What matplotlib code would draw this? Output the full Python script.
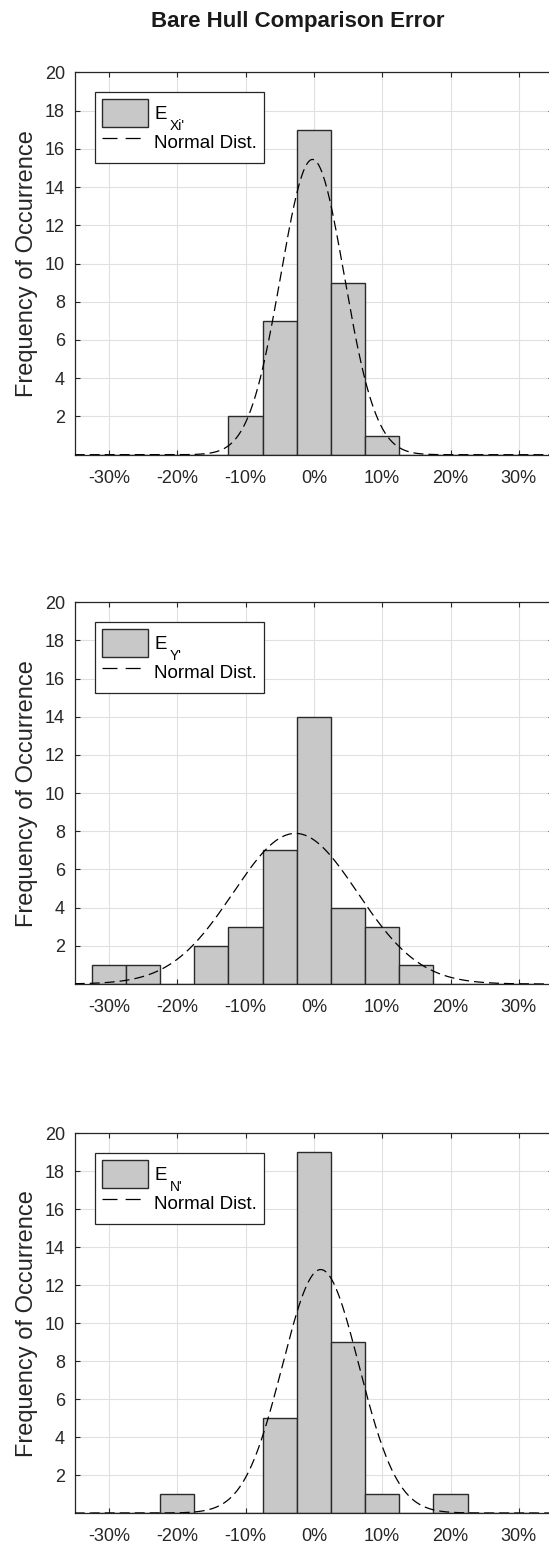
import matplotlib
matplotlib.use("Agg")
import matplotlib.pyplot as plt
from matplotlib.transforms import IdentityTransform
from matplotlib.lines import Line2D
import numpy as np

plt.rcParams['font.family'] = ['Liberation Sans', 'DejaVu Sans']

# histogram bins (error in %), bin width 5%
centers = [-30, -25, -20, -15, -10, -5, 0, 5, 10, 15, 20, 25, 30]
bin_width = 5

counts_x = [0, 0, 0, 0, 2, 7, 17, 9, 1, 0, 0, 0, 0]
counts_y = [1, 1, 0, 2, 3, 7, 14, 4, 3, 1, 0, 0, 0]
counts_n = [0, 0, 1, 0, 0, 5, 19, 9, 1, 0, 1, 0, 0]

# fitted normal distributions (mean, std in %)
mu_x, sigma_x = -0.2, 4.65
mu_y, sigma_y = -2.7, 9.1
mu_n, sigma_n = 1.0, 5.6

subscripts = ["Xi'", "Y'", "N'"]
xticks = [-30, -20, -10, 0, 10, 20, 30]
xticklabels = ['-30%', '-20%', '-10%', '0%', '10%', '20%', '30%']
yticks = [2, 4, 6, 8, 10, 12, 14, 16, 18, 20]

W, H = 549, 1546
fig = plt.figure(figsize=(W / 100, H / 100), dpi=100)

# axes boxes in pixels: left, top, right, bottom
boxes = [(74.7, 72.3, 553, 454.7),
         (74.7, 602.3, 553, 984.0),
         (74.7, 1133.3, 553, 1513.0)]

sets = [(counts_x, mu_x, sigma_x), (counts_y, mu_y, sigma_y), (counts_n, mu_n, sigma_n)]
xs = np.linspace(-35, 35, 400)
txt = '#262626'
legends = []

for (l, t, r, b), (counts, mu, sigma) in zip(boxes, sets):
    ax = fig.add_axes([l / W, 1 - b / H, (r - l) / W, (b - t) / H])
    bars = ax.bar(centers, counts, width=bin_width, color='#c8c8c8', edgecolor='#2a2a2a',
                  linewidth=1.0, zorder=2)
    n = sum(counts)
    fit = n * bin_width * np.exp(-0.5 * ((xs - mu) / sigma) ** 2) / (sigma * np.sqrt(2 * np.pi))
    ax.plot(xs, fit, color='black', linewidth=0.9, dashes=(8, 4), zorder=3)

    ax.set_xlim(-35, 35)
    ax.set_ylim(0, 20)
    ax.set_xticks(xticks)
    ax.set_xticklabels(xticklabels)
    ax.set_yticks(yticks)
    ax.set_axisbelow(True)
    ax.grid(True, color='#e0e0e0', linewidth=0.8)
    ax.tick_params(direction='in', top=True, right=True, length=3.5, width=0.8,
                   colors=txt, labelsize=13)
    ax.tick_params(axis='x', pad=11)
    ax.tick_params(axis='y', pad=7)
    for s in ax.spines.values():
        s.set_color(txt)
        s.set_linewidth(0.9)
    ax.set_ylabel('Frequency of Occurrence', fontsize=17, color=txt)
    ax.yaxis.set_label_coords(-0.077, 0.5)

    # legend line drawn with longer dashes, like the original
    proxy = Line2D([], [], color='black', linewidth=0.9, dashes=(12, 6.5))
    leg = ax.legend([bars, proxy], ['E', 'Normal Dist.'], loc='upper left',
                    bbox_to_anchor=(20.3 / (r - l), 1 - 20 / (b - t)),
                    borderaxespad=0, fontsize=13.5, fancybox=False, framealpha=1,
                    edgecolor=txt, handlelength=2.5, handleheight=1.95,
                    handletextpad=0.3, labelspacing=0.05, borderpad=0.35)
    leg.get_frame().set_linewidth(0.9)
    legends.append(leg)

fig.text(297.5 / W, 1 - 21.7 / H, 'Bare Hull Comparison Error', ha='center', va='center',
         fontsize=16, fontweight='bold', color='#1a1a1a')

# subscripts placed under the baseline of the "E" legend entries
fig.canvas.draw()
renderer = fig.canvas.get_renderer()
for leg, sub in zip(legends, subscripts):
    t = leg.get_texts()[0]
    bb = t.get_window_extent(renderer)
    base = t.get_transform().transform(t.get_position())[1]
    fig.text(bb.x1 + 3, base - 11, sub, fontsize=10, color='black',
             transform=IdentityTransform(), ha='left', va='baseline')

fig.savefig('out.png', dpi=100)
